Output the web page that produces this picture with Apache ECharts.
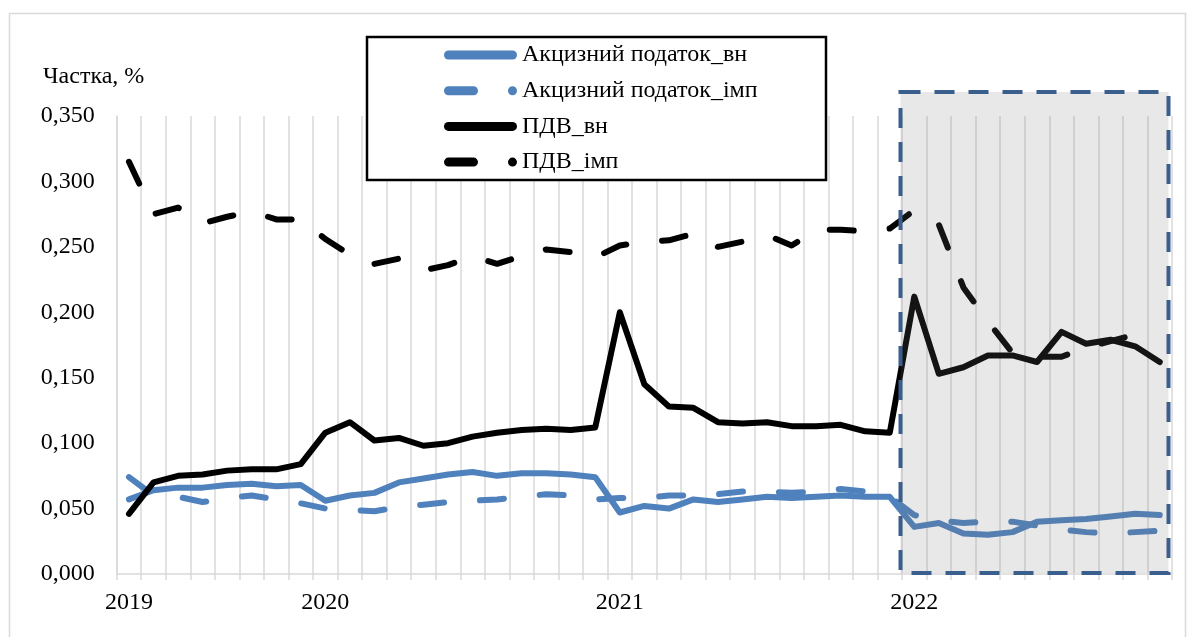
<!DOCTYPE html>
<html>
<head>
<meta charset="utf-8">
<script src="https://cdn.jsdelivr.net/npm/echarts@6/dist/echarts.min.js"></script>
<style>
  html, body { margin: 0; padding: 0; background: #fff; }
  #chart { width: 1193px; height: 637px; }
</style>
</head>
<body>
<div id="chart"></div>
<script>
// місяці: травень 2019 - листопад 2022
const months = [
  '2019-05', '2019-06', '2019-07', '2019-08', '2019-09', '2019-10', '2019-11', '2019-12',
  '2020-01', '2020-02', '2020-03', '2020-04', '2020-05', '2020-06', '2020-07', '2020-08',
  '2020-09', '2020-10', '2020-11', '2020-12',
  '2021-01', '2021-02', '2021-03', '2021-04', '2021-05', '2021-06', '2021-07', '2021-08',
  '2021-09', '2021-10', '2021-11', '2021-12',
  '2022-01', '2022-02', '2022-03', '2022-04', '2022-05', '2022-06', '2022-07', '2022-08',
  '2022-09', '2022-10', '2022-11'
]
// підписи осі X (лише роки)
const yearTicks = { '2019-05': '2019', '2020-01': '2020', '2021-01': '2021', '2022-01': '2022' }

const akcVn = [
  0.057, 0.064, 0.066, 0.066, 0.068, 0.069, 0.067, 0.068,
  0.056, 0.060, 0.062, 0.070, 0.073, 0.076, 0.078, 0.075,
  0.077, 0.077, 0.076, 0.074,
  0.047, 0.052, 0.050, 0.057, 0.055, 0.057, 0.059, 0.058,
  0.059, 0.060, 0.059, 0.059,
  0.036, 0.039, 0.031, 0.030, 0.032, 0.040, 0.041, 0.042,
  0.044, 0.046, 0.045
]
const akcImp = [
  0.074, 0.060, 0.059, 0.055, 0.058, 0.060, 0.057, 0.054,
  0.050, 0.049, 0.048, 0.051, 0.053, 0.055, 0.056, 0.057,
  0.059, 0.061, 0.060, 0.057,
  0.058, 0.058, 0.060, 0.060, 0.061, 0.063, 0.063, 0.062,
  0.063, 0.065, 0.063, 0.059,
  0.045, 0.041, 0.039, 0.040, 0.040, 0.037, 0.034, 0.032,
  0.031, 0.032, 0.033
]
const pdvVn = [
  0.046, 0.070, 0.075, 0.076, 0.079, 0.080, 0.080, 0.084,
  0.108, 0.116, 0.102, 0.104, 0.098, 0.100, 0.105, 0.108,
  0.110, 0.111, 0.110, 0.112,
  0.200, 0.145, 0.128, 0.127, 0.116, 0.115, 0.116, 0.113,
  0.113, 0.114, 0.109, 0.108,
  0.212, 0.153, 0.158, 0.167, 0.167, 0.162, 0.185, 0.176,
  0.179, 0.174, 0.162
]
const pdvImp = [
  0.315, 0.275, 0.280, 0.268, 0.273, 0.277, 0.271, 0.271,
  0.256, 0.244, 0.237, 0.241, 0.232, 0.236, 0.243, 0.237,
  0.243, 0.248, 0.246, 0.242,
  0.251, 0.254, 0.255, 0.260, 0.250, 0.254, 0.259, 0.251,
  0.263, 0.263, 0.262, 0.264,
  0.278, 0.267, 0.219, 0.193, 0.169, 0.166, 0.166, 0.173,
  0.178, 0.183, 0.185
]

const font = 'Liberation Serif'
const fontSize = 24
const blue = '#4F81BD'
const grayLine = '#D9D9D9'
const iconSolid = 'path://M4.5,0 L68.5,0 A4.5,4.5 0 0 1 68.5,9 L4.5,9 A4.5,4.5 0 0 1 4.5,0 Z'
const iconDash = 'path://M4.5,0 L29.5,0 A4.5,4.5 0 0 1 29.5,9 L4.5,9 A4.5,4.5 0 0 1 4.5,0 Z M64,4.5 A4.5,4.5 0 1 0 73,4.5 A4.5,4.5 0 1 0 64,4.5 Z'

function line (name, data, color, dashed) {
  return {
    name: name,
    type: 'line',
    data: data,
    symbol: 'none',
    color: color,
    lineStyle: {
      color: color,
      width: 6,
      type: dashed ? [24, 36] : 'solid',
      cap: 'round',
      join: 'round'
    }
  }
}

const chart = echarts.init(document.getElementById('chart'))
const option = {
  animation: false,
  backgroundColor: '#fff',
  textStyle: { fontFamily: font, color: '#000' },
  title: {
    text: 'Частка, %',
    left: 38,
    top: 60,
    textStyle: { fontFamily: font, fontSize: fontSize, fontWeight: 'normal', color: '#000' }
  },
  grid: { left: 116.7, right: 21, top: 116, bottom: 63 },
  legend: {
    orient: 'vertical',
    left: 444,
    top: 43,
    padding: 0,
    itemWidth: 73,
    itemHeight: 9,
    itemGap: 11.7,
    z: 10,
    itemStyle: { borderWidth: 0 },
    textStyle: { fontFamily: font, fontSize: fontSize, color: '#000', lineHeight: 24 },
    data: [
      { name: 'Акцизний податок_вн', icon: iconSolid },
      { name: 'Акцизний податок_імп', icon: iconDash },
      { name: 'ПДВ_вн', icon: iconSolid },
      { name: 'ПДВ_імп', icon: iconDash }
    ]
  },
  xAxis: {
    type: 'category',
    data: months,
    boundaryGap: true,
    axisLine: { lineStyle: { color: grayLine, width: 1.5 } },
    axisTick: { show: true, interval: 0, length: 6, lineStyle: { color: grayLine, width: 1.5 } },
    splitLine: { show: true, interval: 0, lineStyle: { color: grayLine, width: 1.5 } },
    axisLabel: {
      interval: 0,
      margin: 17,
      fontFamily: font,
      fontSize: fontSize,
      color: '#000',
      formatter: function (v) { return yearTicks[v] || '' }
    }
  },
  yAxis: {
    type: 'value',
    min: 0,
    max: 0.35,
    interval: 0.05,
    splitLine: { show: false },
    axisLine: { show: true, lineStyle: { color: grayLine, width: 1.5 } },
    axisTick: { show: false },
    axisLabel: {
      margin: 22,
      fontFamily: font,
      fontSize: fontSize,
      color: '#000',
      formatter: function (v) { return v.toFixed(3).replace('.', ',') }
    }
  },
  graphic: [
    {
      type: 'rect',
      z: 0,
      shape: { x: 9.5, y: 13.5, width: 1176, height: 660 },
      style: { fill: 'none', stroke: grayLine, lineWidth: 1.5 }
    },
    {
      type: 'rect',
      z: 3,
      shape: { x: 367, y: 37, width: 459, height: 143 },
      style: { fill: '#fff', stroke: '#000', lineWidth: 2.5 }
    },
    {
      type: 'rect',
      z: 6,
      shape: { x: 900.5, y: 92, width: 268, height: 481 },
      style: { fill: 'rgba(120,120,120,0.17)', stroke: '#3A5F8D', lineWidth: 4, lineDash: [20, 14] }
    }
  ],
  series: [
    line('Акцизний податок_вн', akcVn, blue, false),
    line('Акцизний податок_імп', akcImp, blue, true),
    line('ПДВ_вн', pdvVn, '#000', false),
    line('ПДВ_імп', pdvImp, '#000', true)
  ]
}
chart.setOption(option)
</script>
</body>
</html>
